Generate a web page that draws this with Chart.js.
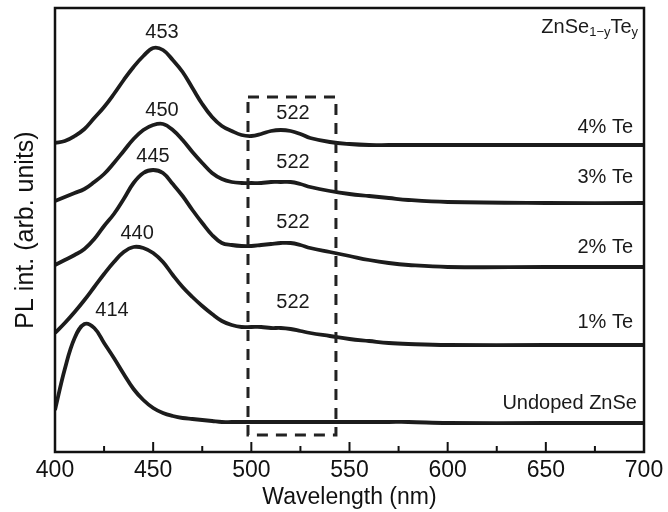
<!DOCTYPE html>
<html><head><meta charset="utf-8">
<script src="https://cdn.jsdelivr.net/npm/chart.js@4.4.1/dist/chart.umd.min.js"></script>
<style>html,body{margin:0;padding:0;background:#fff;} #wrap{width:668px;height:512px;}</style>
</head><body><div id="wrap"><canvas id="c" width="668" height="512"></canvas></div>
<script>
const wavelengths = [400,405,410,415,420,425,430,435,440,445,450,455,460,465,470,475,480,485,490,495,500,505,510,515,520,525,530,540,550,560,570,580,600,650,700];
const undoped = [42,83,114,128,124,109,94,78,63,52,44,39,36,34,33,32,31,30,30,30,30,30,30,30,30,30,30,30,30,30,30,30,29,29,29];
const te1 = [119,129,140,152,165,178,190,200,205,204,199,190,177,165,155,146,138,131,127,125,125,125,124,124,123,121,119,116,113,111,109,108,107,107,107];
const te2 = [187,192,197,203,213,226,238,253,269,279,282,279,268,256,242,229,217,209,207,206,206,207,208,209,209,207,204,200,196,192,189,187,185,185,185];
const te3 = [251,255,259,263,270,278,289,301,313,322,327,328,322,312,300,289,279,273,270,269,269,269,270,270,270,268,265,261,258,256,254,252,250,249,249];
const te4 = [309,311,316,323,334,345,358,372,385,396,404,402,392,380,364,348,335,326,321,317,316,318,321,322,321,318,314,310,308,307,307,307,307,307,307];
const seriesNames = ['Undoped ZnSe','1% Te','2% Te','3% Te','4% Te'];
const xTicks = [400,450,500,550,600,650,700];
// peak annotations: [text, wavelength, intensity]
const peakLabels = [['453',454.5,420],['450',454.5,342],['445',449.9,296],['440',441.8,219],['414',429,142],
  ['522',521.2,339],['522',521.2,290],['522',521.2,230],['522',521.2,150]];
// curve names: [text, wavelength (right edge), intensity]
const curveLabels = [['4% Te',694.4,325],['3% Te',694.4,275],['2% Te',694.4,205],['1% Te',694.4,130],['Undoped ZnSe',696.4,49]];
const boxRange = {x0:498.3, x1:543.1, y0:17, y1:355};

const FONT = '"Liberation Sans", Arial, sans-serif';
const mk = (name, arr) => ({label:name, data: wavelengths.map((w,i)=>({x:w,y:arr[i]})),
  borderColor:'#1c1c1c', borderWidth:3.8, pointRadius:0, tension:0.4, fill:false});

const deco = {
  id:'deco',
  afterDatasetsDraw(chart){
    const {ctx, chartArea:a, scales:{x,y}} = chart;
    ctx.save();
    ctx.strokeStyle='#111'; ctx.lineWidth=2.5; ctx.setLineDash([]);
    ctx.strokeRect(a.left, a.top, a.right-a.left, a.bottom-a.top);
    ctx.lineWidth=2;
    xTicks.forEach(v=>{
      const px=x.getPixelForValue(v);
      ctx.beginPath(); ctx.moveTo(px,a.bottom); ctx.lineTo(px,a.bottom-10); ctx.stroke();
      if (v<700){ const pm=x.getPixelForValue(v+25);
        ctx.beginPath(); ctx.moveTo(pm,a.bottom); ctx.lineTo(pm,a.bottom-6); ctx.stroke(); }
    });
    ctx.lineWidth=3; ctx.setLineDash([11,8]); ctx.strokeStyle='#222';
    const bx0=x.getPixelForValue(boxRange.x0), bx1=x.getPixelForValue(boxRange.x1);
    const by0=y.getPixelForValue(boxRange.y0), by1=y.getPixelForValue(boxRange.y1);
    ctx.strokeRect(bx0, by1, bx1-bx0, by0-by1);
    ctx.setLineDash([]);
    ctx.fillStyle='#1a1a1a'; ctx.font='20px '+FONT; ctx.textBaseline='middle';
    ctx.textAlign='center';
    peakLabels.forEach(([t,wx,wy])=>ctx.fillText(t, x.getPixelForValue(wx), y.getPixelForValue(wy)));
    ctx.textAlign='right';
    curveLabels.forEach(([t,wx,wy])=>ctx.fillText(t, x.getPixelForValue(wx), y.getPixelForValue(wy)));
    const parts=[['ZnSe',20,0],['1\u2212y',13,5],['Te',20,0],['y',13,5]];
    let widths=parts.map(([t,s])=>{ctx.font=s+'px '+FONT; return ctx.measureText(t).width;});
    let total=widths.reduce((p,c)=>p+c,0);
    let cx=x.getPixelForValue(697)-total; const cy=y.getPixelForValue(425);
    ctx.textAlign='left';
    parts.forEach(([t,s,dy],i)=>{ctx.font=s+'px '+FONT; ctx.fillText(t,cx,cy+dy); cx+=widths[i];});
    ctx.restore();
  }
};

new Chart(document.getElementById('c'), {
  type:'line',
  data:{datasets:[mk(seriesNames[0],undoped),mk(seriesNames[1],te1),mk(seriesNames[2],te2),mk(seriesNames[3],te3),mk(seriesNames[4],te4)]},
  options:{
    responsive:false, animation:false, devicePixelRatio:1,
    layout:{padding:{top:8,right:24,left:0,bottom:0}},
    plugins:{legend:{display:false}, tooltip:{enabled:false}},
    scales:{
      x:{type:'linear', min:400, max:700,
        afterBuildTicks:(s)=>{s.ticks=xTicks.map(v=>({value:v}));},
        afterFit:(s)=>{s.height=60;},
        grid:{display:false}, border:{display:false},
        ticks:{font:{family:FONT,size:23}, color:'#111', padding:-3, maxRotation:0},
        title:{display:true, text:'Wavelength (nm)', font:{family:FONT,size:23}, color:'#111', padding:{top:0,bottom:1}}},
      y:{type:'linear', min:0, max:444,
        afterFit:(s)=>{s.width=55;},
        grid:{display:false}, border:{display:false},
        ticks:{display:false},
        title:{display:true, text:'PL int. (arb. units)', font:{family:FONT,size:25}, color:'#111', padding:{top:11,bottom:0}}}
    }
  },
  plugins:[deco]
});
</script></body></html>
